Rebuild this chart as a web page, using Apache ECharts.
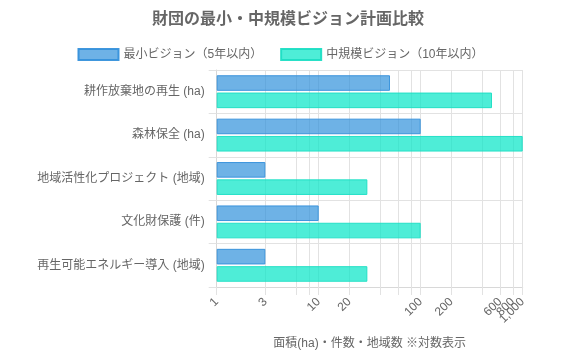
<!DOCTYPE html>
<html>
<head>
<meta charset="utf-8">
<script src="https://cdn.jsdelivr.net/npm/echarts@6/dist/echarts.min.js"></script>
<style>html,body{margin:0;padding:0;background:#fff}#c{width:561px;height:360px}</style>
</head>
<body>
<div id="c"></div>
<script>
const categories = ['耕作放棄地の再生 (ha)', '森林保全 (ha)', '地域活性化プロジェクト (地域)', '文化財保護 (件)', '再生可能エネルギー導入 (地域)'];
const minimalVision = [50, 100, 3, 10, 3];
const mediumVision = [500, 1000, 30, 100, 30];
const seriesNames = ['最小ビジョン（5年以内）', '中規模ビジョン（10年以内）'];
const tickLabelValues = [1, 3, 10, 20, 100, 200, 600, 1000];
const extraTickLabelValues = [800];
const gridValues = [1, 3, 6, 8, 10, 20, 40, 60, 80, 100, 200, 400, 600, 800, 1000];

const FONT = "'Liberation Sans', Arial, 'Noto Sans CJK JP', sans-serif";
const GRID = '#e2e2e2';
const labelStyle = {
  rotate: 45, margin: 13, fontSize: 12, color: '#666', fontFamily: FONT,
  formatter: v => Number(v).toLocaleString('en-US')
};
const chart = echarts.init(document.getElementById('c'), null, {renderer: 'canvas'});
chart.setOption({
  animation: false,
  textStyle: {fontFamily: FONT},
  title: {
    text: '財団の最小・中規模ビジョン計画比較',
    left: 152, top: 12, padding: 0,
    textStyle: {fontSize: 16, fontWeight: 'bold', color: '#666', fontFamily: FONT}
  },
  legend: {
    top: 48, left: 'center', padding: 0,
    icon: 'rect',
    itemWidth: 40, itemHeight: 11, itemGap: 18,
    textStyle: {fontSize: 12, color: '#666', fontFamily: FONT},
    data: seriesNames
  },
  grid: {left: 216.7, right: 38.3, top: 70, bottom: 73, containLabel: false},
  xAxis: [
    {
      type: 'log', logBase: 10, min: 1, max: 1000, position: 'bottom',
      name: '面積(ha)・件数・地域数 ※対数表示',
      nameLocation: 'middle', nameGap: 51,
      nameTextStyle: {fontSize: 12, color: '#666', fontFamily: FONT},
      axisLine: {show: true, lineStyle: {color: '#d8d8d8'}},
      axisTick: {show: true, length: 8, customValues: gridValues, lineStyle: {color: GRID}},
      splitLine: {show: true, lineStyle: {color: GRID}},
      minorSplitLine: {show: false},
      axisLabel: Object.assign({customValues: tickLabelValues, showMinLabel: true, showMaxLabel: true}, labelStyle)
    },
    {
      type: 'log', logBase: 10, min: 1, max: 1000, position: 'bottom', offset: 0,
      axisLine: {show: false},
      axisTick: {show: false},
      splitLine: {show: false},
      axisLabel: Object.assign({customValues: extraTickLabelValues, showMinLabel: true, showMaxLabel: true}, labelStyle)
    }
  ],
  yAxis: {
    type: 'category', data: categories, inverse: true,
    axisLine: {show: true, lineStyle: {color: '#d8d8d8'}},
    axisTick: {show: true, length: 8, lineStyle: {color: GRID}},
    splitLine: {show: true, lineStyle: {color: GRID}},
    axisLabel: {fontSize: 12, color: '#666', margin: 12, fontFamily: FONT}
  },
  series: [
    {
      name: seriesNames[0], type: 'bar', data: minimalVision, xAxisIndex: 0,
      barWidth: 15.6, barGap: '11%',
      itemStyle: {color: 'rgba(48,145,219,0.7)', borderColor: 'rgba(54,145,219,0.95)', borderWidth: 1}
    },
    {
      name: seriesNames[1], type: 'bar', data: mediumVision, xAxisIndex: 0,
      barWidth: 15.6, barGap: '11%',
      itemStyle: {color: 'rgba(10,230,200,0.72)', borderColor: 'rgba(30,222,196,0.95)', borderWidth: 1}
    }
  ]
});
</script>
</body>
</html>
